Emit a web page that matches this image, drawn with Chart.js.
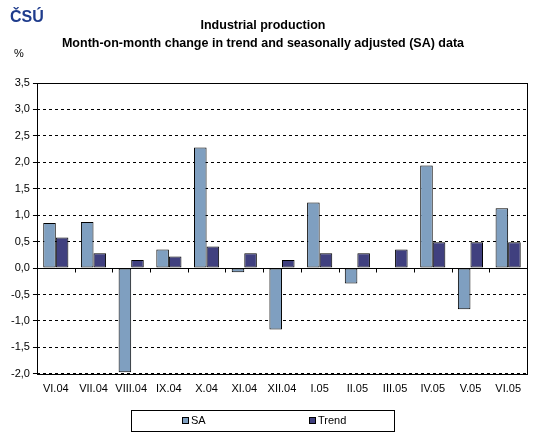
<!DOCTYPE html>
<html lang="en">
<head>
    <meta charset="UTF-8">
    <title>Industrial production</title>
    <script src="https://cdn.jsdelivr.net/npm/chart.js"></script>
    <style>
        body { margin: 0; background: #fff; }
        #wrap { width: 556px; height: 440px; position: relative; }
    </style>
</head>
<body>
<div id="wrap"><canvas id="chart" width="556" height="440"></canvas></div>
<script>
const months = ['VI.04', 'VII.04', 'VIII.04', 'IX.04', 'X.04', 'XI.04', 'XII.04',
                'I.05', 'II.05', 'III.05', 'IV.05', 'V.05', 'VI.05'];
const saValues = [0.85, 0.87, -1.97, 0.35, 2.28, -0.08, -1.16, 1.24, -0.29, 0, 1.94, -0.78, 1.13];
const trendValues = [0.58, 0.28, 0.15, 0.22, 0.41, 0.28, 0.15, 0.28, 0.28, 0.35, 0.49, 0.49, 0.49];
const titleLines = ['Industrial production', 'Month-on-month change in trend and seasonally adjusted (SA) data'];

const FONT = '"Liberation Sans", Arial, sans-serif';

// title, logo, % label, frame, zero line, legend box
const decorPlugin = {
    id: 'decor',
    afterDatasetsDraw(chart) {
        const ctx = chart.ctx;
        const x = chart.scales.x, y = chart.scales.y;
        const a = chart.chartArea;
        ctx.save();
        ctx.strokeStyle = '#000';
        ctx.lineWidth = 1;
        ctx.setLineDash([]);
        // zero line + little ticks
        const y0 = Math.round(y.getPixelForValue(0)) + 0.5;
        ctx.beginPath();
        ctx.moveTo(a.left, y0);
        ctx.lineTo(a.right, y0);
        for (let i = 1; i < months.length; i++) {
            const px = Math.round((x.getPixelForValue(i - 1) + x.getPixelForValue(i)) / 2) + 0.5;
            ctx.moveTo(px, y0);
            ctx.lineTo(px, y0 + 4);
        }
        ctx.stroke();
        // frame
        ctx.strokeRect(Math.round(a.left) + 0.5, Math.round(a.top) + 0.5,
            Math.round(a.right - a.left), Math.round(a.bottom - a.top));
        ctx.restore();
    },
    afterDraw(chart) {
        const ctx = chart.ctx;
        ctx.save();

        ctx.fillStyle = '#1f3c8c';
        ctx.font = 'bold 16px ' + FONT;
        ctx.textBaseline = 'alphabetic';
        ctx.textAlign = 'left';
        ctx.fillText('ČSÚ', 10, 22);

        ctx.fillStyle = '#000';
        ctx.font = 'bold 12.5px ' + FONT;
        ctx.textAlign = 'center';
        ctx.fillText(titleLines[0], 263, 29);
        ctx.fillText(titleLines[1], 263, 47);

        ctx.font = '11px ' + FONT;
        ctx.fillText('%', 19, 57);

        // legend
        ctx.strokeStyle = '#000';
        ctx.lineWidth = 1;
        ctx.strokeRect(131.5, 410.5, 263, 21);
        const ds = chart.data.datasets;
        const legendX = [182, 309];
        ctx.textAlign = 'left';
        ctx.textBaseline = 'middle';
        ds.forEach((d, i) => {
            ctx.fillStyle = d.backgroundColor;
            ctx.fillRect(legendX[i], 417, 6, 6);
            ctx.strokeRect(legendX[i] + 0.5, 417.5, 6, 6);
            ctx.fillStyle = '#000';
            ctx.fillText(d.label, legendX[i] + 9, 421);
        });
        ctx.restore();
    }
};

new Chart(document.getElementById('chart'), {
    type: 'bar',
    data: {
        labels: months,
        datasets: [
            {
                label: 'SA',
                data: saValues,
                backgroundColor: '#7f9fc0',
                borderColor: '#000',
                borderWidth: 1,
                borderSkipped: false
            },
            {
                label: 'Trend',
                data: trendValues,
                backgroundColor: '#40407f',
                borderColor: '#000',
                borderWidth: 1,
                borderSkipped: false
            }
        ]
    },
    options: {
        responsive: false,
        animation: false,
        datasets: { bar: { categoryPercentage: 0.667, barPercentage: 1 } },
        layout: { padding: { top: 83, right: 29, bottom: 35, left: 8 } },
        plugins: {
            legend: { display: false },
            title: { display: false },
            tooltip: { enabled: false }
        },
        scales: {
            x: {
                grid: { display: false, drawTicks: false },
                border: { display: false },
                ticks: { color: '#000', font: { family: FONT, size: 11 }, padding: 9, maxRotation: 0, autoSkip: false }
            },
            y: {
                min: -2,
                max: 3.5,
                ticks: {
                    stepSize: 0.5,
                    color: '#000',
                    font: { family: FONT, size: 11 },
                    padding: 3,
                    callback: v => v.toFixed(1).replace('.', ',')
                },
                grid: {
                    color: '#000',
                    tickLength: 4,
                    tickColor: '#000',
                    lineWidth: 1
                },
                border: { display: false, dash: [3, 3] }
            }
        }
    },
    plugins: [decorPlugin]
});
</script>
</body>
</html>
